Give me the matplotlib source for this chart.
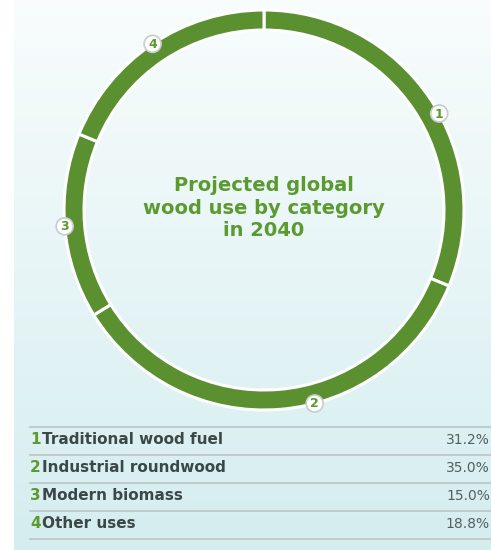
import matplotlib.pyplot as plt
import numpy as np
from matplotlib.patches import Circle

# Category data
numbers = ["1", "2", "3", "4"]
categories = ["Traditional wood fuel", "Industrial roundwood", "Modern biomass", "Other uses"]
shares = [31.2, 35.0, 15.0, 18.8]
value_labels = ["31.2%", "35.0%", "15.0%", "18.8%"]

green = "#5a9030"
text_green = "#5b9a2f"
dark = "#3c4848"

W, H = 491, 550
fig = plt.figure(figsize=(W / 100, H / 100), dpi=100)
ax = fig.add_axes([0, 0, 1, 1])

# Background panel with vertical gradient
top = np.array([0.975, 0.99, 0.99])
bottom = np.array([0.835, 0.93, 0.94])
t = np.linspace(0, 1, 256)[:, None]
grad = (top * (1 - t) + bottom * t)[:, None, :]
ax.imshow(grad, extent=[14, W, 0, H], aspect="auto", zorder=0)

# Donut (pixel coords, y up)
cx, cy, r = 264, H - 210, 200
wedges, _ = ax.pie(shares, center=(cx, cy), radius=r, startangle=90,
                   counterclock=False, frame=True,
                   wedgeprops=dict(width=20, edgecolor="white", linewidth=2.2,
                                   facecolor=green))

# Number markers on outer edge of each segment
label_shift = [-5, 10, 0, 0]  # nudge in degrees
for w, num, sh in zip(wedges, numbers, label_shift):
    ang = np.deg2rad((w.theta1 + w.theta2) / 2 + sh)
    x, y = cx + r * np.cos(ang), cy + r * np.sin(ang)
    ax.add_patch(Circle((x, y), 8.5, facecolor="white", edgecolor="#c8cccc",
                        linewidth=1.2, zorder=5))
    ax.text(x, y - 0.5, num, ha="center", va="center", fontsize=9,
            fontweight="bold", color=text_green, zorder=6)

ax.text(cx, H - 208, "Projected global\nwood use by category\nin 2040",
        ha="center", va="center", fontsize=14, fontweight="bold",
        color=text_green, linespacing=1.25)

# Table below the chart
row_y = [440, 468, 496, 524]
for i, (num, cat, val) in enumerate(zip(numbers, categories, value_labels)):
    y = H - row_y[i]
    ax.text(30, y, num, ha="left", va="center", fontsize=11,
            fontweight="bold", color=text_green)
    ax.text(42, y, cat, ha="left", va="center", fontsize=11,
            fontweight="bold", color=dark)
    ax.text(490, y, val, ha="right", va="center", fontsize=10,
            color="#555f5f")
for ly in [427, 455, 483, 511, 539]:
    ax.plot([30, W], [H - ly, H - ly], color="#bcc4c4", linewidth=1.2)

ax.set_xlim(0, W)
ax.set_ylim(0, H)
ax.set_aspect("auto")
ax.axis("off")

fig.savefig("out.png", dpi=100, facecolor="white")
